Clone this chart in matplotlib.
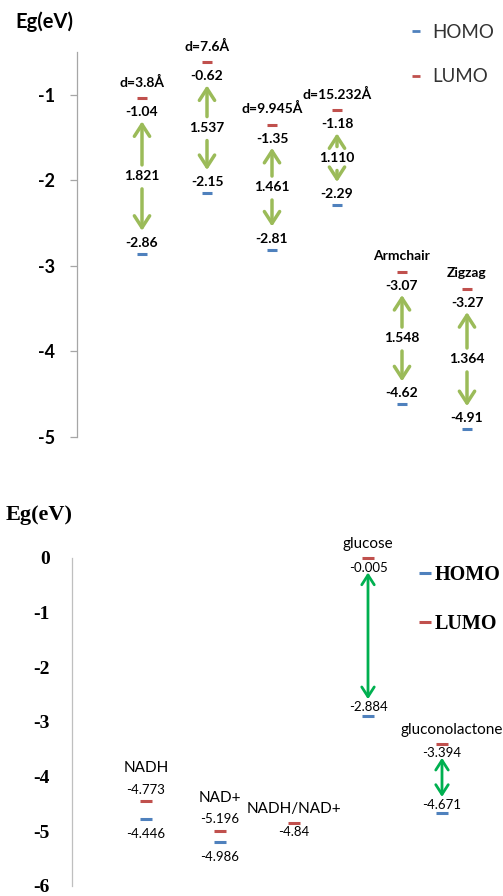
import numpy as np
import matplotlib.pyplot as plt
from matplotlib.lines import Line2D

# haut : niveaux HOMO / LUMO des rubans
top_names = ["d=3.8Å", "d=7.6Å", "d=9.945Å", "d=15.232Å", "Armchair", "Zigzag"]
top_lumo = [-1.04, -0.62, -1.35, -1.18, -3.07, -3.27]
top_homo = [-2.86, -2.15, -2.81, -2.29, -4.62, -4.91]
top_gap = [1.821, 1.537, 1.461, 1.110, 1.548, 1.364]
top_ticks = [-1, -2, -3, -4, -5]

# bas : molecules
bot_names = ["NADH", "NAD+", "NADH/NAD+", "glucose", "gluconolactone"]
bot_lumo = [-4.446, -4.986, -4.84, -0.005, -3.394]
bot_homo = [-4.773, -5.196, np.nan, -2.884, -4.671]
bot_swapped = [True, True, False, False, False]   # etiquettes inversees comme dans l'original
bot_arrow = [False, False, False, True, True]
bot_ticks = [0, -1, -2, -3, -4, -5, -6]

RED = "#C0504D"
BLUE = "#4F81BD"
GREEN_TOP = "#9BBB59"
GREEN_BOT = "#00B050"
SANS = "Lato"
SERIF = "Liberation Serif"

W, H = 503, 896
fig = plt.figure(figsize=(W / 100, H / 100), dpi=100)

# ---------------- panneau du haut ----------------
ax1 = fig.add_axes([77 / W, 1 - 437 / H, 1 - 77 / W, 385 / H])
ax1.set_xlim(0, 426 / 65)
ax1.set_ylim(-5, -0.5)
for s in ["top", "right", "bottom"]:
    ax1.spines[s].set_visible(False)
ax1.spines["left"].set_color("#A6A6A6")
ax1.spines["left"].set_linewidth(0.9)
ax1.set_xticks([])
ax1.set_yticks(top_ticks)
ax1.set_yticklabels([str(t) for t in top_ticks], fontfamily=SANS, fontweight="bold", fontsize=13)
ax1.tick_params(axis="y", length=5, width=0.9, color="#A6A6A6", pad=11)

x1 = np.arange(1, len(top_names) + 1)
ax1.plot(x1, top_lumo, ls="none", marker="_", ms=7.5, mew=2.2, color=RED, clip_on=False)
ax1.plot(x1, top_homo, ls="none", marker="_", ms=7.5, mew=2.2, color=BLUE, clip_on=False)

lab = dict(textcoords="offset points", ha="center", va="center", fontsize=10,
           fontweight="bold", fontfamily=SANS, annotation_clip=False)
for i, x in enumerate(x1):
    lu, ho = top_lumo[i], top_homo[i]
    ax1.annotate(top_names[i], (x, lu), xytext=(0, 11.5), **lab)
    ax1.annotate(f"{lu:g}", (x, lu), xytext=(0, -10), **lab)
    ax1.annotate(f"{ho:g}", (x, ho), xytext=(0, 8), **lab)
    mid = (lu + ho) / 2
    ax1.text(x, mid, f"{top_gap[i]:.3f}", ha="center", va="center", fontsize=10,
             fontweight="bold", fontfamily=SANS)
    arr = dict(arrowstyle="->,head_width=0.55,head_length=0.85", color=GREEN_TOP, lw=2.5,
               shrinkA=0, shrinkB=0, mutation_scale=10)
    ax1.annotate("", xy=(x, lu - 0.27), xytext=(x, mid + 0.13), arrowprops=arr, annotation_clip=False)
    ax1.annotate("", xy=(x, ho + 0.27), xytext=(x, mid - 0.15), arrowprops=arr, annotation_clip=False)

fig.text(15 / W, 1 - 22 / H, "Eg(eV)", ha="left", va="center", fontsize=14.5,
         fontweight="bold", fontfamily=SANS)

h_top = [Line2D([], [], ls="none", marker="_", ms=5.5, mew=2, color=BLUE),
         Line2D([], [], ls="none", marker="_", ms=5.5, mew=2, color=RED)]
fig.legend(h_top, ["HOMO", "LUMO"], loc="upper left", bbox_to_anchor=(410 / W, 1 - 24 / H),
           frameon=False, prop=dict(family=SANS, size=13.5), labelcolor="#333333",
           labelspacing=1.45, handlelength=0.65, handletextpad=0.55, borderpad=0, borderaxespad=0)

# ---------------- panneau du bas ----------------
ax2 = fig.add_axes([72 / W, 10 / H, 1 - 72 / W, 328 / H])
ax2.set_xlim(0, 431 / 74)
ax2.set_ylim(-6, 0)
for s in ["top", "right", "bottom"]:
    ax2.spines[s].set_visible(False)
ax2.spines["left"].set_color("#BFBFBF")
ax2.spines["left"].set_linewidth(0.9)
ax2.set_xticks([])
ax2.set_yticks(bot_ticks)
ax2.set_yticklabels([str(t) for t in bot_ticks], fontfamily=SERIF, fontweight="bold", fontsize=14)
ax2.tick_params(axis="y", length=0, pad=16)

x2 = np.arange(1, len(bot_names) + 1)
ax2.plot(x2, bot_lumo, ls="none", marker="_", ms=8.5, mew=2.2, color=RED, clip_on=False)
ax2.plot(x2, bot_homo, ls="none", marker="_", ms=8.5, mew=2.2, color=BLUE, clip_on=False)

val = dict(textcoords="offset points", ha="center", va="center", fontsize=9.5,
           fontfamily=SANS, annotation_clip=False)
nam = dict(val, fontsize=11)
for i, x in enumerate(x2):
    lu, ho = bot_lumo[i], bot_homo[i]
    dx = 7 if i == len(x2) - 1 else 0
    if bot_swapped[i]:
        ax2.annotate(f"{ho:g}", (x, lu), xytext=(0, 8), **val)
        ax2.annotate(f"{lu:g}", (x, ho), xytext=(0, -11), **val)
        ax2.annotate(bot_names[i], (x, lu), xytext=(0, 23.5), **nam)
    else:
        ax2.annotate(f"{lu:g}", (x, lu), xytext=(0, -7), **val)
        if not np.isnan(ho):
            ax2.annotate(f"{ho:g}", (x, ho), xytext=(0, 6), **val)
        ax2.annotate(bot_names[i], (x, lu), xytext=(dx, 10), **nam)
    if bot_arrow[i]:
        ax2.annotate("", xy=(x, lu - 0.26), xytext=(x, ho + 0.3), annotation_clip=False,
                     arrowprops=dict(arrowstyle="<->,head_width=0.45,head_length=0.7",
                                     color=GREEN_BOT, lw=2.0, shrinkA=0, shrinkB=0,
                                     mutation_scale=10))

fig.text(6 / W, 1 - 515 / H, "Eg(eV)", ha="left", va="center", fontsize=16,
         fontweight="bold", fontfamily=SERIF)

h_bot = [Line2D([], [], ls="none", marker="_", ms=8, mew=2.2, color=BLUE),
         Line2D([], [], ls="none", marker="_", ms=8, mew=2.2, color=RED)]
fig.legend(h_bot, ["HOMO", "LUMO"], loc="upper left", bbox_to_anchor=(419 / W, 1 - 565 / H),
           frameon=False, prop=dict(family=SERIF, size=14.5, weight="bold"),
           labelspacing=1.45, handlelength=0.55, handletextpad=0.25, borderpad=0, borderaxespad=0)

fig.savefig("out.png", dpi=100)
